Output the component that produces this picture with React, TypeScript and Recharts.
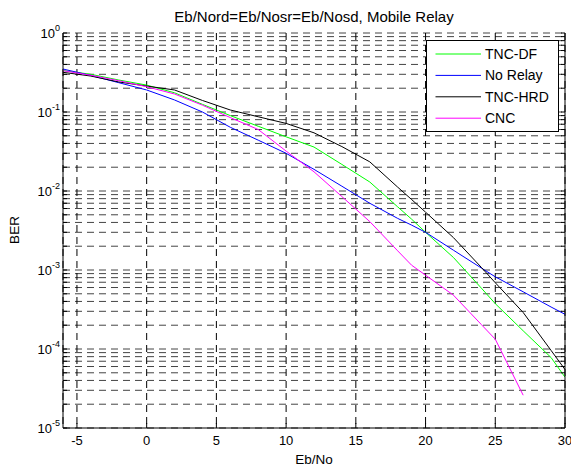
import React from 'react';
import { LineChart, Line, XAxis, YAxis, CartesianGrid, Legend } from 'recharts';

const FONT = '"Liberation Sans", Arial, Helvetica, sans-serif';

// Eb/No values (dB)
const xValues = [-6, -4, -2, 0, 2, 4, 6, 8, 10, 12, 14, 16, 18, 19, 20, 22, 24, 25, 27, 29, 30];
// BER series
const tncDf = [0.335, 0.3, 0.254, 0.219, 0.175, 0.125, 0.09, 0.066, 0.0485, 0.036, 0.0217, 0.013, 0.0063, 0.0044, 0.003, 0.00144, 0.00059, 0.000375, 0.00017, 0.000078, 0.000044];
const noRelay = [0.35, 0.29, 0.235, 0.19, 0.142, 0.1, 0.064, 0.044, 0.03, 0.0188, 0.0115, 0.007, 0.0045, 0.0037, 0.003, 0.00178, 0.00106, 0.00082, 0.00053, 0.00034, 0.000275];
const tncHrd = [0.318, 0.285, 0.24, 0.213, 0.19, 0.14, 0.106, 0.087, 0.0717, 0.0545, 0.0365, 0.0234, 0.0112, 0.0078, 0.0054, 0.00257, 0.00108, 0.00069, 0.00029, 0.000096, 0.000055];
const cnc = [0.333, 0.292, 0.249, 0.209, 0.169, 0.122, 0.085, 0.06, 0.032, 0.0175, 0.0085, 0.0041, 0.00175, 0.00115, 0.00086, 0.00048, 0.000204, 0.000133, 0.000026, null, null];

const seriesNames = ['TNC-DF', 'No Relay', 'TNC-HRD', 'CNC'];
const seriesColors = ['#00ff00', '#0000ff', '#000000', '#ff00ff'];

const xTicks = [-5, 0, 5, 10, 15, 20, 25, 30];
const yTicks: number[] = [];
for (let k = -5; k < 0; k++) {
  for (let m = 1; m < 10; m++) yTicks.push(Number((m * Math.pow(10, k)).toPrecision(6)));
}
yTicks.push(1);

const data = xValues.map((x, i) => ({
  x,
  tncDf: tncDf[i],
  noRelay: noRelay[i],
  tncHrd: tncHrd[i],
  cnc: cnc[i],
}));

const isMajor = (v: number) => {
  const l = Math.log10(v);
  return Math.abs(l - Math.round(l)) < 1e-6;
};

const LeftTick = (props: any) => {
  const { x, y, payload } = props;
  const v = payload.value;
  const major = isMajor(v);
  const e = Math.round(Math.log10(v));
  return (
    <g>
      <line x1={x} x2={x + 4} y1={y} y2={y} stroke="#000" strokeWidth={1} />
      {major && (
        <text x={x - 3} y={y + 4.6} textAnchor="end" fontSize={13} fontFamily={FONT} fill="#000">
          10
          <tspan dy={-7} fontSize={9}>{String(e)}</tspan>
        </text>
      )}
    </g>
  );
};

const RightTick = (props: any) => {
  const { x, y } = props;
  return <line x1={x} x2={x - 4} y1={y} y2={y} stroke="#000" strokeWidth={1} />;
};

const BottomTick = (props: any) => {
  const { x, y, payload } = props;
  return (
    <g>
      <line x1={x} x2={x} y1={y} y2={y - 5} stroke="#000" strokeWidth={1} />
      <text x={x} y={y + 17} textAnchor="middle" fontSize={13} fontFamily={FONT} fill="#000">
        {String(payload.value)}
      </text>
    </g>
  );
};

const TopTick = (props: any) => {
  const { x, y } = props;
  return <line x1={x} x2={x} y1={y} y2={y + 5} stroke="#000" strokeWidth={1} />;
};

const LegendBox = (props: any) => {
  const payload = [...(props.payload || [])].sort(
    (a: any, b: any) => seriesNames.indexOf(a.value) - seriesNames.indexOf(b.value)
  );
  return (
    <svg width={133} height={92} style={{ display: 'block' }}>
      <rect x={0.5} y={0.5} width={132} height={91} fill="#fff" stroke="#000" strokeWidth={1} />
      {payload.map((p: any, i: number) => {
        const cy = 14 + i * 21.4;
        return (
          <g key={i}>
            <line x1={9.5} x2={55} y1={cy} y2={cy} stroke={p.color} strokeWidth={1} />
            <text x={59} y={cy + 5} fontSize={14} fontFamily={FONT} fill="#000">
              {p.value}
            </text>
          </g>
        );
      })}
    </svg>
  );
};

export default function App() {
  const keys = ['tncDf', 'noRelay', 'tncHrd', 'cnc'];
  return (
    <div style={{ position: 'absolute', left: 0, top: 0, width: 571, height: 468, background: '#fff' }}>
      <LineChart
        width={571}
        height={468}
        data={data}
        margin={{ top: 33, right: 0, bottom: 0, left: 0 }}
      >
        <CartesianGrid vertical={false} stroke="#444" strokeDasharray="7 5" strokeWidth={1} />
        <CartesianGrid horizontal={false} stroke="#000" strokeDasharray="7 5" strokeWidth={1} />
        <XAxis
          dataKey="x"
          type="number"
          domain={[-6, 30]}
          ticks={xTicks}
          allowDataOverflow
          interval={0}
          height={40}
          tickSize={0}
          tickMargin={0}
          tickLine={false}
          axisLine={{ stroke: '#000' }}
          tick={<BottomTick />}
        />
        <XAxis
          xAxisId="top"
          dataKey="x"
          type="number"
          orientation="top"
          domain={[-6, 30]}
          ticks={xTicks}
          allowDataOverflow
          interval={0}
          height={0}
          tickSize={0}
          tickMargin={0}
          tickLine={false}
          axisLine={{ stroke: '#000' }}
          tick={<TopTick />}
        />
        <YAxis
          scale="log"
          domain={[1e-5, 1]}
          ticks={yTicks}
          allowDataOverflow
          interval={0}
          width={63}
          tickSize={0}
          tickMargin={0}
          tickLine={false}
          axisLine={{ stroke: '#000' }}
          tick={<LeftTick />}
        />
        <YAxis
          yAxisId="right"
          orientation="right"
          scale="log"
          domain={[1e-5, 1]}
          ticks={yTicks}
          allowDataOverflow
          interval={0}
          width={6}
          tickSize={0}
          tickMargin={0}
          tickLine={false}
          axisLine={{ stroke: '#000' }}
          tick={<RightTick />}
        />
        {keys.map((k, i) => (
          <Line
            key={k}
            dataKey={k}
            name={seriesNames[i]}
            stroke={seriesColors[i]}
            strokeWidth={1}
            dot={false}
            activeDot={false}
            type="linear"
            isAnimationActive={false}
          />
        ))}
        <Legend
          layout="vertical"
          align="center"
          verticalAlign="middle"
          content={<LegendBox />}
          wrapperStyle={{ position: 'absolute', left: 426, top: 40, width: 133, height: 92 }}
        />
      </LineChart>
      <svg
        width={571}
        height={468}
        style={{ position: 'absolute', left: 0, top: 0, pointerEvents: 'none' }}
      >
        <text x={314} y={22} textAnchor="middle" fontSize={15} fontFamily={FONT} fill="#000">
          Eb/Nord=Eb/Nosr=Eb/Nosd, Mobile Relay
        </text>
        <text x={314} y={464} textAnchor="middle" fontSize={13.5} fontFamily={FONT} fill="#000">
          Eb/No
        </text>
        <text
          transform="translate(19,230) rotate(-90)"
          x={0}
          y={0}
          textAnchor="middle"
          fontSize={13.5}
          fontFamily={FONT}
          fill="#000"
        >
          BER
        </text>
      </svg>
    </div>
  );
}
